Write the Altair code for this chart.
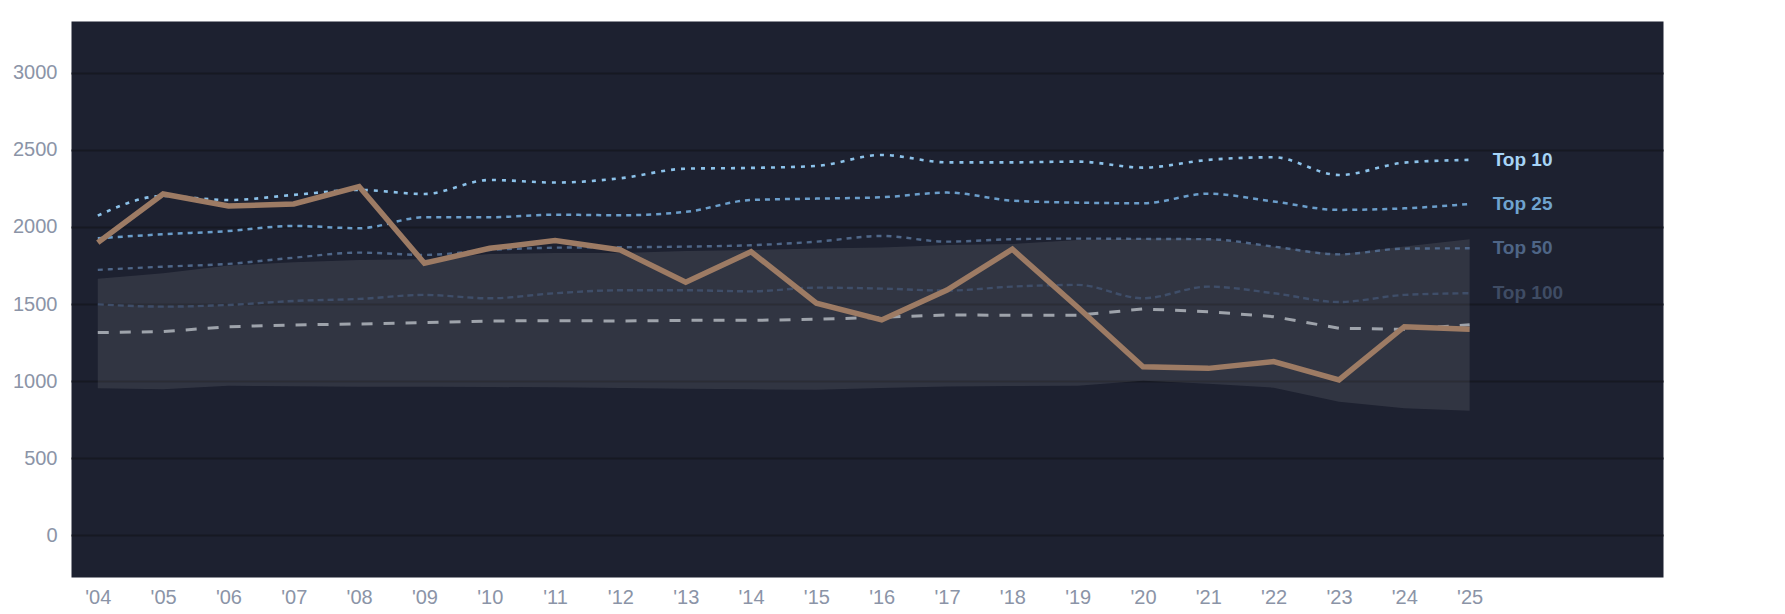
import altair as alt
import pandas as pd

years = list(range(2004, 2026))

team = [1898, 2213, 2135, 2148, 2261, 1764, 1861, 1911, 1850, 1641, 1839,
        1505, 1397, 1591, 1855, 1479, 1094, 1083, 1127, 1008, 1353, 1336]
top10 = [2073, 2200, 2174, 2207, 2239, 2213, 2304, 2287, 2315, 2377, 2382,
         2395, 2466, 2418, 2418, 2423, 2384, 2434, 2451, 2336, 2416, 2434]
top25 = [1926, 1952, 1973, 2006, 1991, 2062, 2062, 2079, 2075, 2097, 2174,
         2183, 2192, 2222, 2170, 2157, 2153, 2215, 2164, 2110, 2120, 2148]
top50 = [1721, 1742, 1760, 1800, 1833, 1818, 1850, 1865, 1868, 1872, 1881,
         1904, 1941, 1904, 1920, 1924, 1922, 1920, 1872, 1822, 1859, 1861]
top100 = [1498, 1483, 1494, 1520, 1533, 1559, 1537, 1570, 1589, 1589, 1582,
          1606, 1600, 1587, 1613, 1624, 1537, 1613, 1570, 1513, 1559, 1570]
median = [1315, 1321, 1353, 1364, 1371, 1379, 1390, 1392, 1390, 1394, 1394,
          1401, 1414, 1429, 1427, 1427, 1468, 1450, 1418, 1343, 1336, 1365]
band_hi = [1664, 1699, 1749, 1770, 1785, 1790, 1824, 1831, 1831, 1844, 1850,
           1859, 1867, 1883, 1889, 1915, 1925, 1925, 1872, 1822, 1872, 1920]
band_lo = [954, 947, 971, 967, 964, 964, 962, 960, 955, 951, 947,
           945, 955, 965, 968, 970, 1003, 983, 958, 867, 824, 809]

series_names = ["Top 10", "Top 25", "Top 50", "Top 100"]
series_values = [top10, top25, top50, top100]
line_colors = ["#8cc2ea", "#6b9ecb", "#4f6789", "#3f4e69"]
label_colors = ["#a6d4f6", "#6fa3cf", "#4e6586", "#3f4c64"]
dashes = [[4, 6], [5, 5], [5, 5], [6, 4]]
widths = [2.6, 2.5, 2.4, 2.4]
y_ticks = [0, 500, 1000, 1500, 2000, 2500, 3000]

FONT = "Liberation Sans"
AX_COLOR = "#8b94a7"

wide = pd.DataFrame({"year": years, "team": team, "median": median,
                     "lo": band_lo, "hi": band_hi})

xs = alt.Scale(domain=[2003.59, 2027.96], nice=False, zero=False)
ys = alt.Scale(domain=[-269, 3334], nice=False, zero=False)

xaxis = alt.Axis(values=years, labelExpr="\"'\" + substring(toString(datum.value), 2)",
                 grid=False, ticks=False, tickSize=0, domain=False, labelFlush=False,
                 labelFontSize=20, labelColor=AX_COLOR, labelFont=FONT,
                 labelPadding=10, title=None)
yaxis = alt.Axis(values=y_ticks, format="d", grid=True, gridColor="#161922", gridWidth=2,
                 ticks=False, tickSize=0, domain=False, labelFontSize=20,
                 labelColor=AX_COLOR, labelFont=FONT, labelPadding=14, title=None)

X = alt.X("year:Q", scale=xs, axis=xaxis)

band = alt.Chart(wide).mark_area(color="#ffffff", opacity=0.09).encode(
    x=X,
    y=alt.Y("lo:Q", scale=ys, axis=yaxis),
    y2="hi:Q",
)

layers = [band]
for name, vals, col, dash, w in reversed(list(zip(series_names, series_values, line_colors, dashes, widths))):
    d = pd.DataFrame({"year": years, "value": vals})
    layers.append(
        alt.Chart(d).mark_line(color=col, strokeDash=dash, strokeWidth=w,
                               interpolate="monotone").encode(
            x=X, y=alt.Y("value:Q", scale=ys, axis=yaxis))
    )

med = alt.Chart(wide).mark_line(color="#9ea3ab", strokeDash=[11, 11], strokeWidth=3).encode(
    x=X, y=alt.Y("median:Q", scale=ys, axis=yaxis))
team_line = alt.Chart(wide).mark_line(color="#9d7b64", strokeWidth=5.5).encode(
    x=X, y=alt.Y("team:Q", scale=ys, axis=yaxis))
layers += [med, team_line]

for name, vals, col in zip(series_names, series_values, label_colors):
    ld = pd.DataFrame({"year": [years[-1]], "value": [vals[-1]], "label": [name]})
    layers.append(
        alt.Chart(ld).mark_text(align="left", baseline="middle", dx=23, fontSize=19,
                                fontWeight="bold", font=FONT, color=col).encode(
            x=X, y=alt.Y("value:Q", scale=ys, axis=yaxis), text="label:N")
    )

chart = alt.layer(*layers).properties(
    width=1592, height=556,
    autosize=alt.AutoSizeParams(type="none"),
    padding={"left": 63, "top": 13, "right": 114, "bottom": 36},
).configure(background="#ffffff").configure_view(fill="#1d2130", stroke="transparent")

chart.save("out.html", embed_options={"renderer": "svg", "actions": False})
